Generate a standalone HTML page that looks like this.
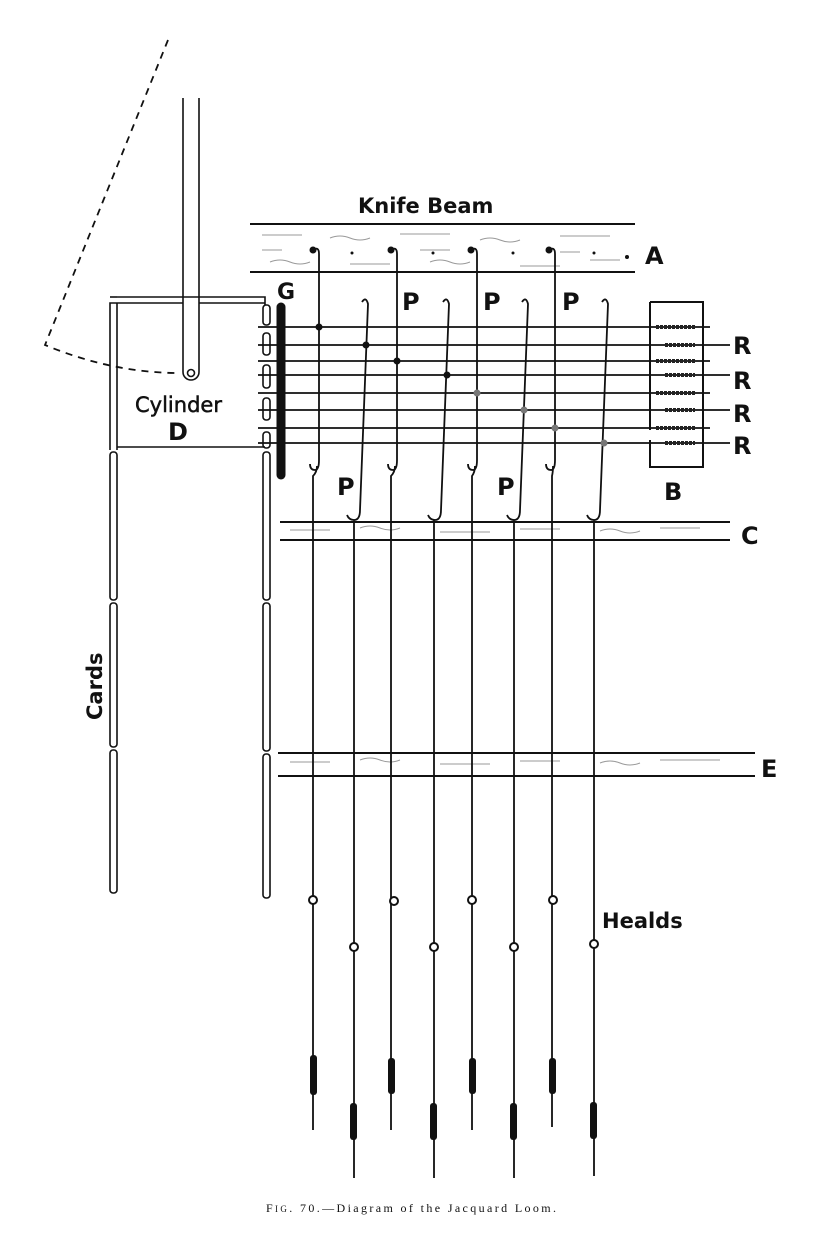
<!DOCTYPE html>
<html><head><meta charset="utf-8"><style>
html,body{margin:0;padding:0;background:#fff;}
svg{display:block}
text{font-family:"DejaVu Sans","Liberation Sans",sans-serif;fill:#111}
</style></head><body>
<svg width="817" height="1260" viewBox="0 0 817 1260" xmlns="http://www.w3.org/2000/svg">
<g stroke="#111" fill="none" stroke-width="1.6">
<path d="M168,40 L45,345 Q110,372 175,373" stroke-dasharray="7,6" stroke-width="1.8"/>
<path d="M183,98 V372 A8,8 0 0 0 199,372 V98"/>
<circle cx="191" cy="373" r="3.5"/>
<path d="M110,450 V303 H117 M117,450 V303 M117,297 H265 V305 M117,303 H183 M199,303 H265"/>
<line x1="110" y1="297" x2="117" y2="297"/>
<line x1="117" y1="447" x2="265" y2="447"/>
<rect x="110" y="452" width="7" height="148" rx="3"/>
<rect x="110" y="603" width="7" height="144" rx="3"/>
<rect x="110" y="750" width="7" height="143" rx="3"/>
<rect x="263" y="305" width="7" height="20" rx="3"/>
<rect x="263" y="333" width="7" height="22" rx="3"/>
<rect x="263" y="365" width="7" height="23" rx="3"/>
<rect x="263" y="398" width="7" height="22" rx="3"/>
<rect x="263" y="432" width="7" height="16" rx="3"/>
<rect x="263" y="452" width="7" height="148" rx="3"/>
<rect x="263" y="603" width="7" height="148" rx="3"/>
<rect x="263" y="754" width="7" height="144" rx="3"/>
<line x1="250" y1="224" x2="635" y2="224" stroke-width="2"/>
<line x1="250" y1="272" x2="635" y2="272" stroke-width="2"/>
<g stroke="#999" stroke-width="1">
<path d="M262,235 h40 M330,238 q10,-4 20,0 t20,0 M400,234 h50 M480,240 q10,-4 20,0 t20,0 M560,236 h50 M270,262 q10,-4 20,0 t20,0 M350,264 h40 M430,262 q10,-4 20,0 t20,0 M520,266 h40 M590,260 h30 M262,250 h20 M420,250 h30 M560,252 h20"/>
<path d="M290,530 h40 M360,528 q10,-4 20,0 t20,0 M440,532 h50 M520,529 h40 M600,531 q10,-4 20,0 t20,0 M660,528 h40"/>
<path d="M290,762 h40 M360,760 q10,-4 20,0 t20,0 M440,764 h50 M520,761 h40 M600,763 q10,-4 20,0 t20,0 M660,760 h60"/>
</g>
<line x1="280" y1="522" x2="730" y2="522" stroke-width="2"/>
<line x1="280" y1="540" x2="730" y2="540" stroke-width="2"/>
<line x1="278" y1="753" x2="755" y2="753" stroke-width="2"/>
<line x1="278" y1="776" x2="755" y2="776" stroke-width="2"/>
<g stroke-width="1.8">
<line x1="258" y1="327" x2="710" y2="327"/>
<line x1="258" y1="345" x2="730" y2="345"/>
<line x1="258" y1="361" x2="710" y2="361"/>
<line x1="258" y1="375" x2="730" y2="375"/>
<line x1="258" y1="393" x2="710" y2="393"/>
<line x1="258" y1="410" x2="730" y2="410"/>
<line x1="258" y1="428" x2="710" y2="428"/>
<line x1="258" y1="443" x2="730" y2="443"/>
</g>
<path d="M650,302 H703 V467 H650 V440 M650,430 V302" stroke-width="2"/>
<line x1="281" y1="307" x2="281" y2="475" stroke-width="9" stroke-linecap="round"/>
<g stroke-width="1.8">
<path d="M313,250 q6,-4 6,4 V460 q0,10 -4,10 q-5,0 -5,-6 M317,466 q0,6 -4,10 V1130"/>
<path d="M391,250 q6,-4 6,4 V460 q0,10 -4,10 q-5,0 -5,-6 M395,466 q0,6 -4,10 V1130"/>
<path d="M471,250 q6,-4 6,4 V460 q0,10 -4,10 q-5,0 -5,-6 M475,466 q0,6 -3,10 V1130"/>
<path d="M549,250 q6,-4 6,4 V460 q0,10 -4,10 q-5,0 -5,-6 M553,466 q0,6 -1,10 V1127"/>
<path d="M362,302 q4,-6 6,2 L360,510 q0,10 -6,10 q-5,0 -7,-5 M354,520 V1178"/>
<path d="M443,302 q4,-6 6,2 L441,510 q0,10 -6,10 q-5,0 -7,-5 M434,520 V1178"/>
<path d="M522,302 q4,-6 6,2 L520,510 q0,10 -6,10 q-5,0 -7,-5 M514,520 V1178"/>
<path d="M602,302 q4,-6 6,2 L600,510 q0,10 -6,10 q-5,0 -7,-5 M594,520 V1176"/>
</g>
</g>
<g fill="#111">
<circle cx="313" cy="250" r="3.5"/><circle cx="391" cy="250" r="3.5"/><circle cx="471" cy="250" r="3.5"/><circle cx="549" cy="250" r="3.5"/>
<circle cx="352" cy="253" r="1.5"/><circle cx="433" cy="253" r="1.5"/><circle cx="513" cy="253" r="1.5"/><circle cx="594" cy="253" r="1.5"/><circle cx="627" cy="257" r="2"/>
<circle cx="319" cy="327" r="3.5"/><circle cx="366" cy="345" r="3.5"/><circle cx="397" cy="361" r="3.5"/><circle cx="447" cy="375" r="3.5"/>
<circle cx="477" cy="393" r="3.5" fill="#777"/><circle cx="524" cy="410" r="3.5" fill="#777"/><circle cx="555" cy="428" r="3.5" fill="#777"/><circle cx="604" cy="443" r="3.5" fill="#777"/>
<g stroke="#222" stroke-width="4" fill="none">
<path d="M656,327 h40 M665,345 h30 M656,361 h40 M665,375 h30 M656,393 h40 M665,410 h30 M656,428 h40 M665,443 h30" stroke-dasharray="3,1"/>
</g>
<rect x="310" y="1055" width="7" height="40" rx="3"/><rect x="388" y="1058" width="7" height="36" rx="3"/><rect x="469" y="1058" width="7" height="36" rx="3"/><rect x="549" y="1058" width="7" height="36" rx="3"/>
<rect x="350" y="1103" width="7" height="37" rx="3"/><rect x="430" y="1103" width="7" height="37" rx="3"/><rect x="510" y="1103" width="7" height="37" rx="3"/><rect x="590" y="1102" width="7" height="37" rx="3"/>
</g>
<g fill="#fff" stroke="#111" stroke-width="2">
<circle cx="313" cy="900" r="4"/><circle cx="394" cy="901" r="4"/><circle cx="472" cy="900" r="4"/><circle cx="553" cy="900" r="4"/>
<circle cx="354" cy="947" r="4"/><circle cx="434" cy="947" r="4"/><circle cx="514" cy="947" r="4"/><circle cx="594" cy="944" r="4"/>
</g>
<g font-size="22">
<text x="358" y="213" font-size="21" font-weight="bold">Knife  Beam</text>
<text x="645" y="264" font-size="24" font-weight="bold">A</text>
<text x="277" y="299" font-size="22" font-weight="bold">G</text>
<text x="402" y="310" font-size="24" font-weight="bold">P</text>
<text x="483" y="310" font-size="24" font-weight="bold">P</text>
<text x="562" y="310" font-size="24" font-weight="bold">P</text>
<text x="337" y="495" font-size="24" font-weight="bold">P</text>
<text x="497" y="495" font-size="24" font-weight="bold">P</text>
<text x="733" y="354" font-size="24" font-weight="bold">R</text>
<text x="733" y="389" font-size="24" font-weight="bold">R</text>
<text x="733" y="422" font-size="24" font-weight="bold">R</text>
<text x="733" y="454" font-size="24" font-weight="bold">R</text>
<text x="664" y="500" font-size="24" font-weight="bold">B</text>
<text x="741" y="544" font-size="24" font-weight="bold">C</text>
<text x="761" y="777" font-size="24" font-weight="bold">E</text>
<text x="135" y="412" font-size="21" stroke="#111" stroke-width="0.5">Cylinder</text>
<text x="168" y="440" font-size="24" font-weight="bold">D</text>
<text x="602" y="928" font-size="21" font-weight="bold">Healds</text>
<text transform="translate(102,720) rotate(-90)" font-size="21" font-weight="bold">Cards</text>
</g>
<text x="266" y="1212" font-size="12" textLength="290" style="font-family:'Liberation Serif',serif">F<tspan font-size="9">IG</tspan>. 70.—Diagram of the Jacquard Loom.</text>
</svg>
</body></html>
